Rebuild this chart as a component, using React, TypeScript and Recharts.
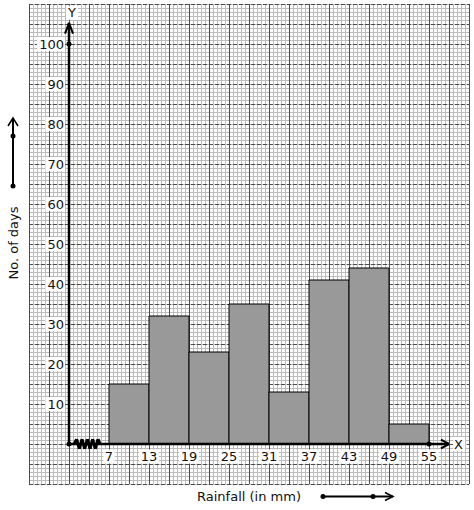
import React from 'react';
import { ComposedChart, XAxis, YAxis, Bar, ReferenceLine, ReferenceDot } from 'recharts';

// ---- data ----
const binStarts = [7, 13, 19, 25, 31, 37, 43, 49];
const binWidth = 6;
const days = [15, 32, 23, 35, 13, 41, 44, 5];
const xTickLabels = [7, 13, 19, 25, 31, 37, 43, 49, 55];
const yTickLabels = [10, 20, 30, 40, 50, 60, 70, 80, 90, 100];
// kink (broken-axis zigzag) between origin and 7
const zigX = [1.75, 2.15, 2.55, 2.95, 3.35, 3.75, 4.15, 4.55, 4.95, 5.35, 5.65];
const zigY = [0, 1.2, -1.2, 1.2, -1.2, 1.2, -1.2, 1.2, -1.2, 1.2, 0];

const barData = binStarts.map((s, i) => ({ mid: s + binWidth / 2, days: days[i] }));
const mids = barData.map((d) => d.mid);

// ---- scale / paper ----
const X_MIN = -5;
const X_MAX = 61;
const Y_MIN = -10;
const Y_MAX = 110;
const ORIGIN_X = 1;

const range = (from: number, to: number, step: number) => {
  const out: number[] = [];
  const n = Math.round((to - from) / step);
  for (let k = 0; k <= n; k++) out.push(Math.round((from + k * step) * 1000) / 1000);
  return out;
};
const minorV = range(X_MIN, X_MAX, 0.6);
const majorV = range(X_MIN, X_MAX, 3);
const minorH = range(Y_MIN, Y_MAX, 1);
const majorH = range(Y_MIN, Y_MAX, 5);

const FONT = 'DejaVu Sans';
const MINOR = '#bcbcbc';
const MAJOR = '#4d4d4d';

const yTickShape = (label: string) => (p: any) => {
  const w = label.length * 8.3 + 3;
  const right = p.cx - 4;
  return (
    <g>
      <rect x={right - w} y={p.cy - 7} width={w} height={14} fill="#ffffff" />
      <text x={right - 1} y={p.cy} dy="0.36em" textAnchor="end" fontFamily={FONT} fontSize={13} fill="#111">
        {label}
      </text>
    </g>
  );
};

const xTickShape = (label: string) => (p: any) => {
  const w = label.length * 8.3 + 3;
  const cy = p.cy + 12.5;
  return (
    <g>
      <rect x={p.cx - w / 2} y={cy - 7} width={w} height={14} fill="#ffffff" />
      <text x={p.cx} y={cy} dy="0.36em" textAnchor="middle" fontFamily={FONT} fontSize={13} fill="#111">
        {label}
      </text>
    </g>
  );
};

const letterShape = (label: string, dx: number, anchor: 'start' | 'middle') => (p: any) => (
  <g>
    <rect x={p.cx + dx - (anchor === 'middle' ? 6 : 1)} y={p.cy - 7} width={12} height={14} fill="#ffffff" />
    <text x={p.cx + dx} y={p.cy} dy="0.36em" textAnchor={anchor} fontFamily={FONT} fontSize={13} fill="#111">
      {label}
    </text>
  </g>
);

const XTitle = (props: any) => {
  const vb = props.viewBox || { x: 29, y: 484, width: 440, height: 26 };
  const cy = vb.y + 12.5;
  const cx = vb.x + vb.width / 2;
  const a0 = vb.x + 294;
  const a1 = vb.x + 364;
  return (
    <g>
      <text x={cx} y={cy} dy="0.36em" textAnchor="middle" fontFamily={FONT} fontSize={13} fill="#111">
        Rainfall (in mm)
      </text>
      <line x1={a0} y1={cy} x2={a1} y2={cy} stroke="#000" strokeWidth={2} />
      <polyline points={`${a1 - 8},${cy - 4} ${a1},${cy} ${a1 - 8},${cy + 4}`} fill="none" stroke="#000" strokeWidth={1.5} />
      <circle cx={a0} cy={cy} r={2.5} fill="#000" />
      <circle cx={a0 + 50} cy={cy} r={2.5} fill="#000" />
    </g>
  );
};

const YTitle = (props: any) => {
  const vb = props.viewBox || { x: 0, y: 4, width: 29, height: 480 };
  const cx = vb.x + 13;
  const ty = vb.y + 239;
  const tip = vb.y + 114;
  const bottom = vb.y + 182;
  return (
    <g>
      <text
        x={cx}
        y={ty}
        dy="0.36em"
        textAnchor="middle"
        fontFamily={FONT}
        fontSize={13}
        fill="#111"
        transform={`rotate(-90 ${cx} ${ty})`}
      >
        No. of days
      </text>
      <line x1={cx} y1={tip} x2={cx} y2={bottom} stroke="#000" strokeWidth={2} />
      <polyline points={`${cx - 5},${tip + 8} ${cx},${tip} ${cx + 5},${tip + 8}`} fill="none" stroke="#000" strokeWidth={1.5} />
      <circle cx={cx} cy={tip + 18} r={2.5} fill="#000" />
      <circle cx={cx} cy={bottom} r={2.5} fill="#000" />
    </g>
  );
};

export default function App() {
  return (
    <div style={{ position: 'absolute', left: 0, top: 0, background: '#fff' }}>
      <ComposedChart
        width={474}
        height={510}
        data={barData}
        margin={{ top: 4, right: 5, bottom: 0, left: 0 }}
        barCategoryGap={0}
        barGap={0}
      >
        <XAxis
          dataKey="mid"
          type="number"
          domain={[X_MIN, X_MAX]}
          allowDataOverflow
          ticks={mids}
          tick={false}
          tickLine={false}
          axisLine={false}
          height={26}
          label={{ content: XTitle }}
        />
        <YAxis
          type="number"
          domain={[Y_MIN, Y_MAX]}
          allowDataOverflow
          tick={false}
          tickLine={false}
          axisLine={false}
          width={29}
          label={{ content: YTitle }}
        />

        {minorV.map((v) => (
          <ReferenceLine key={`mv${v}`} x={v} stroke={MINOR} strokeWidth={1} shapeRendering="crispEdges" zIndex={-120} />
        ))}
        {minorH.map((v) => (
          <ReferenceLine key={`mh${v}`} y={v} stroke={MINOR} strokeWidth={1} shapeRendering="crispEdges" zIndex={-120} />
        ))}
        {majorV.map((v) => (
          <ReferenceLine key={`Mv${v}`} x={v} stroke={MAJOR} strokeWidth={1} shapeRendering="crispEdges" zIndex={-110} />
        ))}
        {majorH.map((v) => (
          <ReferenceLine
            key={`Mh${v}`}
            y={v}
            stroke={MAJOR}
            strokeWidth={1}
            strokeDasharray="4 2"
            shapeRendering="crispEdges"
            zIndex={-110}
          />
        ))}

        <Bar dataKey="days" fill="#999999" stroke="#000000" strokeWidth={1} isAnimationActive={false} />

        {/* Y axis with arrow */}
        <ReferenceLine segment={[{ x: ORIGIN_X, y: 0 }, { x: ORIGIN_X, y: 105.3 }]} stroke="#000" strokeWidth={2.5} zIndex={900} />
        <ReferenceLine segment={[{ x: ORIGIN_X - 0.6, y: 102.6 }, { x: ORIGIN_X, y: 105.3 }]} stroke="#000" strokeWidth={2} zIndex={900} />
        <ReferenceLine segment={[{ x: ORIGIN_X + 0.6, y: 102.6 }, { x: ORIGIN_X, y: 105.3 }]} stroke="#000" strokeWidth={2} zIndex={900} />
        {/* X axis with arrow */}
        <ReferenceLine segment={[{ x: ORIGIN_X, y: 0 }, { x: 58, y: 0 }]} stroke="#000" strokeWidth={2.5} zIndex={900} />
        <ReferenceLine segment={[{ x: 56.8, y: 1.1 }, { x: 58, y: 0 }]} stroke="#000" strokeWidth={2} zIndex={900} />
        <ReferenceLine segment={[{ x: 56.8, y: -1.1 }, { x: 58, y: 0 }]} stroke="#000" strokeWidth={2} zIndex={900} />
        {/* zigzag kink */}
        {zigX.slice(1).map((x, i) => (
          <ReferenceLine
            key={`z${i}`}
            segment={[{ x: zigX[i], y: zigY[i] }, { x, y: zigY[i + 1] }]}
            stroke="#000"
            strokeWidth={3}
            zIndex={910}
          />
        ))}

        <ReferenceDot x={ORIGIN_X} y={0} r={2.5} fill="#000" stroke="none" zIndex={950} />
        <ReferenceDot x={ORIGIN_X} y={100} r={2.5} fill="#000" stroke="none" zIndex={950} />
        <ReferenceDot x={55} y={0} r={2.5} fill="#000" stroke="none" zIndex={950} />

        {yTickLabels.map((v) => (
          <ReferenceDot key={`yt${v}`} x={ORIGIN_X} y={v} r={0} shape={yTickShape(String(v))} zIndex={1000} />
        ))}
        {xTickLabels.map((v) => (
          <ReferenceDot key={`xt${v}`} x={v} y={0} r={0} shape={xTickShape(String(v))} zIndex={1000} />
        ))}
        <ReferenceDot x={ORIGIN_X} y={107.8} r={0} shape={letterShape('Y', 3, 'middle')} zIndex={1000} />
        <ReferenceDot x={58} y={0} r={0} shape={letterShape('X', 5, 'start')} zIndex={1000} />
      </ComposedChart>
    </div>
  );
}
